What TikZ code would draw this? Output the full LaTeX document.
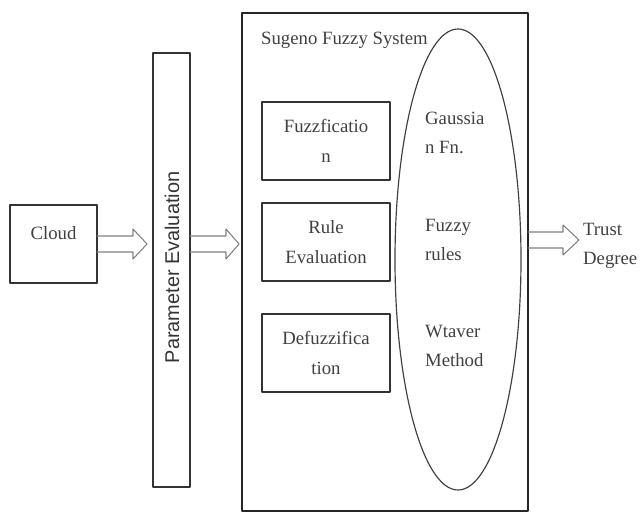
\documentclass[tikz,border=0pt]{standalone}
\usepackage{fontspec}
\setmainfont{Liberation Serif}
\newfontfamily\sideFont{Liberation Sans}
\usepackage{tikz}
\usetikzlibrary{arrows.meta,positioning,calc,shapes.geometric}

\newcommand{\px}{0.03cm}
% hollow block arrow from #1 to its tip #2
\newcommand{\hollowarrow}[3]{%
  \draw[blockarrow] ($(#1)+(0,-8)$) -- ($(#2)+(-#3,-8)$) -- ($(#2)+(-#3,-15)$) -- (#2)
    -- ($(#2)+(-#3,15)$) -- ($(#2)+(-#3,8)$) -- ($(#1)+(0,8)$);}

\begin{document}
\begin{tikzpicture}[x=0.03cm, y=-0.03cm, line cap=round, line join=round,
                    every node/.style={outer sep=0pt}]

  \tikzset{
    box/.style={draw=black!80, line width=1.3pt, inner sep=0pt},
    frame/.style={draw=black!85, line width=1.1pt, inner sep=0pt},
    blockarrow/.style={draw=black!50, line width=0.9pt},
    txt/.style={text=black!75, font=\fontsize{16}{25}\selectfont, inner sep=1pt}
  }

  \path[use as bounding box] (0,0) rectangle (640,513);

  % outer system frame and membership ellipse
  \node[frame, minimum width=286*\px, minimum height=498*\px] (sugeno) at (385,262) {};
  \node[ellipse, draw=black!75, line width=1pt, minimum width=126*\px, minimum height=461*\px] (memb) at (458,259.5) {};
  \node[txt, anchor=west] (title) at (260,40) {Sugeno Fuzzy System};

  % input side
  \node[box, minimum width=87*\px, minimum height=78*\px] (cloud) at (53.5,244) {};
  \node[txt] (cloudtxt) at (53.5,233) {Cloud};
  \node[box, minimum width=37*\px, minimum height=434*\px] (param) at (171.5,270) {};
  \node[txt, text=black!80, font=\sideFont\fontsize{17}{20}\selectfont, rotate=90] (paramtxt) at (172,267.5) {Parameter Evaluation};

  % stages
  \node[box, minimum width=128*\px, minimum height=78*\px, txt, align=center] (fuzz) at (326,141) {Fuzzficatio\\n};
  \node[box, minimum width=128*\px, minimum height=78*\px, txt, align=center] (rule) at (326,242) {Rule\\Evaluation};
  \node[box, minimum width=128*\px, minimum height=78*\px, txt, align=center] (defuzz) at (326,353) {Defuzzifica\\tion};

  \node[txt, anchor=west, align=left] (gauss) at (424,133) {Gaussia\\n Fn.};
  \node[txt, anchor=west, align=left] (rules) at (424,240) {Fuzzy\\rules};
  \node[txt, anchor=west, align=left] (method) at (424,346) {Wtaver\\Method};

  % output
  \node[txt, anchor=west, align=left] (trust) at (582,246) {Trust\\Degree};

  % block arrows
  \coordinate (tip1) at (147,244);
  \coordinate (tip2) at (239,244);
  \coordinate (out) at (sugeno.east |- 0,240);
  \coordinate (tip3) at (579,240);
  \hollowarrow{cloud.east}{tip1}{14}
  \hollowarrow{param.east |- cloud.east}{tip2}{13}
  \hollowarrow{out}{tip3}{16}
\end{tikzpicture}
\end{document}
